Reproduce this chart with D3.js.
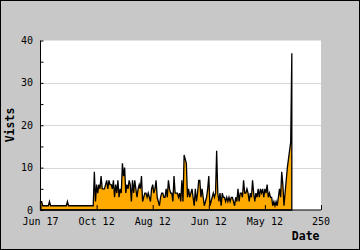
<!DOCTYPE html>
<html>
<head>
<meta charset="utf-8">
<script src="https://cdn.jsdelivr.net/npm/d3@7"></script>
<style>
  body { margin: 0; }
  svg { display: block; }
</style>
</head>
<body>
<div class="plot"></div>
<script>
// Visits per day, index 0..225
const flatStart = [2, 2, 1, 1, 1, 1, 1, 1, 2, 1, 1, 1, 1, 1, 1, 1, 1, 1, 1, 1, 1, 1, 1, 1,
	2, 1, 1, 1, 1, 1, 1, 1, 1, 1, 1, 1, 1, 1, 1, 1, 1, 1, 1, 1, 1, 1, 1, 1];
const busyPart = [9, 2, 6, 4, 6, 5, 8, 5, 5, 5, 6, 7, 5, 7, 6, 6, 5, 7, 3, 6, 4, 7, 3, 5, 4,
	11, 8, 10, 4, 6, 5, 7, 6, 2, 7, 4, 7, 5, 3, 5, 6, 5, 8, 2, 3, 4, 4, 3, 4, 3, 2, 5,
	6, 4, 5, 7, 3, 2, 1, 3, 4, 4, 3, 3, 5, 3, 7, 5, 4, 4, 2, 8, 4, 4, 4, 3, 4, 2, 7, 2,
	13, 12, 11, 3, 5, 3, 4, 5, 3, 1, 5, 2, 4, 7, 7, 3, 5, 3, 1, 2, 3, 5, 8, 1, 2, 3, 4,
	3, 4, 14, 4, 2, 4, 1, 4, 3, 3, 2, 3, 2, 3, 2, 3, 3, 2, 1, 3, 2, 5, 2, 4, 4, 3, 7, 4,
	4, 5, 4, 2, 4, 3, 7, 4, 2, 4, 3, 5, 3, 5, 4, 5, 3, 5, 4, 6, 3, 4, 3, 3, 1, 2, 1, 2,
	1, 3, 5, 3, 9, 6, 1, 4, 7, 10, 12, 14, 16, 37];
const visits = flatStart.concat(busyPart);

const xTickValues = [0, 50, 100, 150, 200, 250];
const xTickLabels = ['Jun 17', 'Oct 12', 'Aug 12', 'Jun 12', 'May 12', '250'];
const yMajor = [0, 10, 20, 30, 40];
const yMinor = [5, 15, 25, 35];

const W = 360, H = 250;
const m = {left: 40.5, right: 321, top: 40.5, bottom: 210};
const font = '"DejaVu Sans Mono", monospace';

const svg = d3.select('.plot').append('svg')
	.attr('width', W)
	.attr('height', H);

svg.append('rect')
	.attr('x', 0.5).attr('y', 0.5)
	.attr('width', W - 1).attr('height', H - 1)
	.attr('fill', '#c8c8c8')
	.attr('stroke', '#000');

const x = d3.scaleLinear().domain([0, 250]).range([m.left, m.right]);
const y = d3.scaleLinear().domain([0, 40]).range([m.bottom, m.top]);

// plot background
svg.append('rect')
	.attr('x', m.left).attr('y', m.top)
	.attr('width', m.right - m.left).attr('height', m.bottom - m.top)
	.attr('fill', '#fff');

// grid
svg.selectAll('.grid')
	.data([10, 20, 30])
	.enter().append('line')
	.attr('x1', m.left).attr('x2', m.right)
	.attr('y1', d => Math.round(y(d)) + 0.5).attr('y2', d => Math.round(y(d)) + 0.5)
	.attr('stroke', '#d8d8d8');

// area
const area = d3.area()
	.x((d, i) => x(i))
	.y0(y(0))
	.y1(d => y(d));

svg.append('path')
	.datum(visits)
	.attr('d', area)
	.attr('fill', '#ffaa00')
	.attr('stroke', '#000')
	.attr('stroke-width', 1.3);

// y axis
const yAxis = d3.axisRight(y)
	.tickValues(yMajor.concat(yMinor))
	.tickSize(3)
	.tickFormat('');
const gy = svg.append('g')
	.attr('transform', `translate(${m.left},0)`)
	.call(yAxis);
gy.select('.domain').attr('d', `M0,${m.top}V${m.bottom}`);
gy.selectAll('line, path').attr('stroke', '#000');

svg.selectAll('.ylab')
	.data(yMajor)
	.enter().append('text')
	.attr('x', 33)
	.attr('y', d => y(d))
	.attr('dy', '0.35em')
	.attr('text-anchor', 'end')
	.style('font', `10px ${font}`)
	.text(d => d);

// x axis
const xAxis = d3.axisTop(x)
	.tickValues(xTickValues)
	.tickSize(5)
	.tickFormat('');
const gx = svg.append('g')
	.attr('transform', `translate(0,${m.bottom})`)
	.call(xAxis);
gx.select('.domain').attr('d', `M${m.left},0H${m.right}`);
gx.selectAll('line, path').attr('stroke', '#000');

svg.selectAll('.xlab')
	.data(xTickValues)
	.enter().append('text')
	.attr('x', d => x(d))
	.attr('y', 224.5)
	.attr('text-anchor', 'middle')
	.style('font', `10px ${font}`)
	.text((d, i) => xTickLabels[i]);

// axis titles
svg.append('text')
	.attr('transform', 'translate(14,125) rotate(-90)')
	.attr('text-anchor', 'middle')
	.style('font', `bold 11.5px ${font}`)
	.text('Vists');

svg.append('text')
	.attr('x', 319.5)
	.attr('y', 240)
	.attr('text-anchor', 'end')
	.style('font', `bold 11.5px ${font}`)
	.text('Date');
</script>
</body>
</html>
